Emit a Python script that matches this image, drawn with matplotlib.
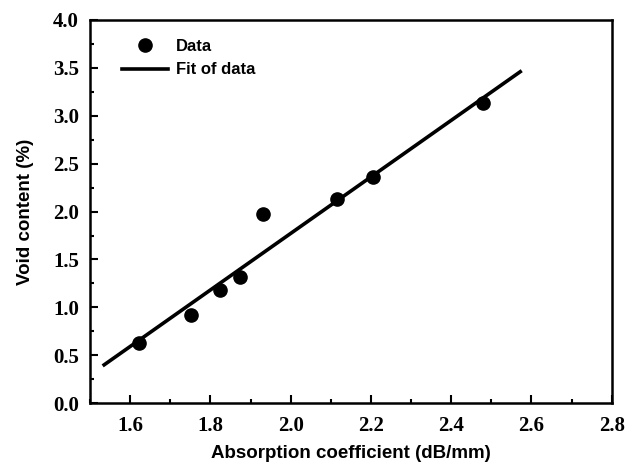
import matplotlib
matplotlib.use('Agg')
import matplotlib.pyplot as plt
from matplotlib.ticker import MultipleLocator, FormatStrFormatter

# Measured points
absorption = [1.622, 1.751, 1.823, 1.873, 1.93, 2.115, 2.206, 2.48]
void_content = [0.63, 0.92, 1.18, 1.32, 1.97, 2.13, 2.36, 3.13]

# Linear fit end points
fit_x = [1.535, 2.572]
fit_y = [0.40, 3.46]

fig = plt.figure(figsize=(6.3, 4.65), dpi=100)
ax = fig.add_axes([0.143, 0.133, 0.828, 0.824])

ax.plot(absorption, void_content, 'o', color='black', markersize=9.5, label='Data', zorder=3)
ax.plot(fit_x, fit_y, '-', color='black', linewidth=2.6, label='Fit of data')

ax.set_xlim(1.5, 2.8)
ax.set_ylim(0.0, 4.0)
ax.xaxis.set_major_locator(MultipleLocator(0.2))
ax.xaxis.set_minor_locator(MultipleLocator(0.1))
ax.yaxis.set_major_locator(MultipleLocator(0.5))
ax.yaxis.set_minor_locator(MultipleLocator(0.25))
ax.xaxis.set_major_formatter(FormatStrFormatter('%.1f'))
ax.yaxis.set_major_formatter(FormatStrFormatter('%.1f'))

ax.tick_params(which='both', direction='in', top=False, right=False, width=1.5)
ax.tick_params(which='major', length=6, labelsize=15)
ax.tick_params(axis='x', which='major', pad=9)
ax.tick_params(axis='y', which='major', pad=8)
ax.tick_params(which='minor', length=3)
for lab in ax.get_xticklabels() + ax.get_yticklabels():
    lab.set_family('Liberation Serif')
    lab.set_weight('bold')

for s in ax.spines.values():
    s.set_linewidth(1.8)

ax.set_xlabel('Absorption coefficient (dB/mm)', family='Liberation Sans',
              fontsize=13.5, fontweight='bold', labelpad=7)
ax.set_ylabel('Void content (%)', family='Liberation Sans',
              fontsize=13.5, fontweight='bold', labelpad=14)

leg = ax.legend(loc='upper left', frameon=False, bbox_to_anchor=(0.061, 0.95),
                prop={'family': 'Liberation Sans', 'weight': 'bold', 'size': 12},
                borderaxespad=0, borderpad=0,
                handlelength=2.75, handletextpad=0.5, labelspacing=0.5)

plt.savefig('out.png', dpi=100)
